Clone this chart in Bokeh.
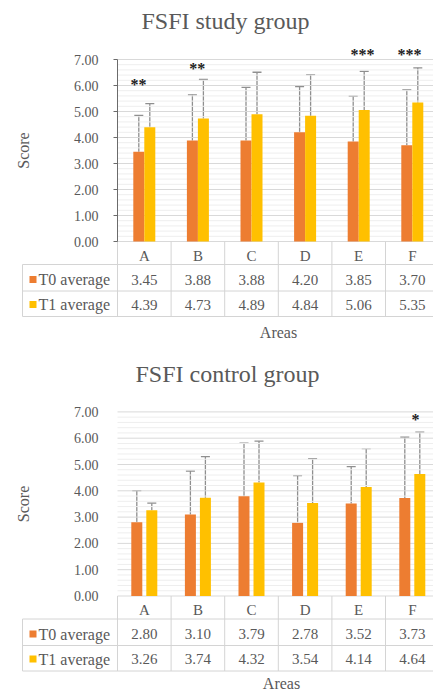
import math
from bokeh.plotting import figure
from bokeh.models import (ColumnDataSource, Range1d, SingleIntervalTicker, NumeralTickFormatter,
                          Whisker, TeeHead)
from bokeh.layouts import column
from bokeh.embed import file_html
from bokeh.resources import INLINE
from bokeh.core.properties import value

# ---------------- data ----------------
areas = ["A", "B", "C", "D", "E", "F"]
series_names = ["T0 average", "T1 average"]
y_ticks = [0, 1, 2, 3, 4, 5, 6, 7]

study_t0 = [3.45, 3.88, 3.88, 4.20, 3.85, 3.70]
study_t1 = [4.39, 4.73, 4.89, 4.84, 5.06, 5.35]
study_t0_sd = [1.40, 1.76, 2.05, 1.76, 1.74, 2.13]
study_t1_sd = [0.91, 1.50, 1.62, 1.58, 1.48, 1.33]
study_sig = ["**", "**", "", "", "***", "***"]
study_sig_y = [6.19, 6.81, 0, 0, 7.35, 7.35]
study_sig_x = [0.39, 1.49, 0, 0, 4.57, 5.45]

control_t0 = [2.80, 3.10, 3.79, 2.78, 3.52, 3.73]
control_t1 = [3.26, 3.74, 4.32, 3.54, 4.14, 4.64]
control_t0_sd = [1.21, 1.65, 2.02, 1.80, 1.40, 2.31]
control_t1_sd = [0.27, 1.56, 1.57, 1.68, 1.46, 1.59]
control_sig = ["", "", "", "", "", "*"]
control_sig_y = [0, 0, 0, 0, 0, 6.85]
control_sig_x = [0, 0, 0, 0, 0, 5.56]

C0 = "#ED7D31"
C1 = "#FFC000"
TXT = "#595959"
SERIF = "Liberation Serif"
GRID = "#d9d9d9"
MINOR = "#eeeeee"
TABLE = "#d4d4d4"
COL_W = 53.6      # px per category column
FRAME_LEFT = 117  # px where the category area starts


def make_chart(title, t0, t1, sd0, sd1, sig, sig_y, sig_x, H, zero_px, ppu,
               dodge_px, title_y_px, title_x, areas_x, areas_y_px, axis_line):
    x_start = -FRAME_LEFT / COL_W
    x_end = (433 - FRAME_LEFT) / COL_W
    y_end = zero_px / ppu
    y_start = -(H - zero_px) / ppu
    p = figure(width=433, height=H, x_range=Range1d(x_start, x_end),
               y_range=Range1d(y_start, y_end),
               output_backend="svg", toolbar_location=None, x_axis_location=None,
               min_border_left=0, min_border_right=0, min_border_top=0, min_border_bottom=0)
    p.outline_line_color = None
    p.background_fill_color = "white"
    p.border_fill_color = "white"
    for g in p.grid:
        g.visible = False

    ticker = SingleIntervalTicker(interval=1, num_minor_ticks=5)
    ax = p.yaxis[0]
    ax.fixed_location = 0
    ax.ticker = ticker
    ax.bounds = (y_ticks[0], y_ticks[-1])
    ax.formatter = NumeralTickFormatter(format="0.00")
    ax.major_label_text_font = SERIF
    ax.major_label_text_font_size = "14px"
    ax.major_label_text_color = TXT
    ax.major_label_standoff = 15
    ax.axis_line_color = "#6b6b6b" if axis_line else None
    ax.major_tick_line_color = "#6b6b6b" if axis_line else None
    ax.major_tick_out = 4
    ax.major_tick_in = 0
    ax.minor_tick_line_color = None

    n = len(areas)
    centers = [i + 0.5 for i in range(n)]

    # grid lines (only across the category area)
    minor = [t + k * 0.2 for t in y_ticks[:-1] for k in range(1, 5)]
    p.segment(x0=[0] * len(minor), x1=[n] * len(minor), y0=minor, y1=minor,
              line_color=MINOR, line_width=1)
    p.segment(x0=[0] * len(y_ticks), x1=[n] * len(y_ticks), y0=y_ticks, y1=y_ticks,
              line_color=GRID, line_width=1)

    dodge = dodge_px / COL_W
    bw = 11 / COL_W
    x0 = [c - dodge for c in centers]
    x1 = [c + dodge for c in centers]

    p.vbar(x=x0, top=t0, bottom=0, width=bw, color=C0, line_color=None)
    p.vbar(x=x1, top=t1, bottom=0, width=bw, color=C1, line_color=None)

    for xs, m, sd in ((x0, t0, sd0), (x1, t1, sd1)):
        src = ColumnDataSource(dict(x=xs, lo=m, hi=[a + b for a, b in zip(m, sd)]))
        w = Whisker(base="x", lower="lo", upper="hi", dimension="height", source=src,
                    line_color="#8f8f8f", line_width=1.3,
                    upper_head=TeeHead(size=9, line_color="#8f8f8f", line_width=1.3),
                    lower_head=None)
        p.add_layout(w)

    # significance marks
    sx = [x for x, s in zip(sig_x, sig) if s]
    sy = [y for y, s in zip(sig_y, sig) if s]
    st = [s for s in sig if s]
    p.text(x=sx, y=sy, text=st, text_font=value(SERIF), text_font_style="bold",
           text_font_size="16px", text_color="#222222", text_align="center",
           text_baseline="middle", y_offset=4)

    # data table under the plot
    hdr_b, r0_b, r1_b = 23 / ppu, 49.5 / ppu, 75 / ppu
    left = (22 - FRAME_LEFT) / COL_W
    lx0, ly0, lx1, ly1 = [], [], [], []

    def seg(a, b, c, d):
        lx0.append(a); ly0.append(b); lx1.append(c); ly1.append(d)

    for yb in (hdr_b, r0_b, r1_b):
        seg(left, -yb, n + 0.2, -yb)
    seg(left, -hdr_b, left, -r1_b)
    for i in range(n + 1):
        seg(i, 0, i, -r1_b)
    p.segment(x0=lx0, y0=ly0, x1=lx1, y1=ly1, line_color=TABLE, line_width=1)

    tstyle = dict(text_font=value(SERIF), text_font_size="15px", text_color=TXT,
                  text_align="center", text_baseline="middle")
    p.text(x=centers, y=[-14 / ppu] * n, text=areas, **tstyle)
    p.text(x=centers, y=[-38 / ppu] * n, text=[f"{v:.2f}" for v in t0], **tstyle)
    p.text(x=centers, y=[-63 / ppu] * n, text=[f"{v:.2f}" for v in t1], **tstyle)

    row_y = [-38 / ppu, -63 / ppu]
    p.text(x=[(38 - FRAME_LEFT) / COL_W] * 2, y=row_y, text=series_names,
           text_font=value(SERIF), text_font_size="16px", text_color=TXT,
           text_align="left", text_baseline="middle")
    p.scatter(x=[(32.5 - FRAME_LEFT) / COL_W] * 2, y=row_y, marker="square", size=7,
              fill_color=[C0, C1], line_color=None)

    p.text(x=[areas_x], y=[-areas_y_px / ppu], text=["Areas"], text_font=value(SERIF),
           text_font_size="16px", text_color=TXT, text_align="center", text_baseline="middle")
    p.text(x=[(23 - FRAME_LEFT) / COL_W], y=[(y_ticks[0] + y_ticks[-1]) / 2], text=["Score"],
           angle=math.pi / 2, text_font=value(SERIF), text_font_size="16px", text_color=TXT,
           text_align="center", text_baseline="middle")
    p.text(x=[title_x], y=[(zero_px - title_y_px) / ppu], text=[title], text_font=value(SERIF),
           text_font_size="24px", text_color=TXT, text_align="center", text_baseline="middle")
    return p


p1 = make_chart("FSFI study group", study_t0, study_t1, study_t0_sd, study_t1_sd,
                study_sig, study_sig_y, study_sig_x, H=346, zero_px=241, ppu=26.0,
                dodge_px=5.5, title_y_px=20, title_x=(225 - FRAME_LEFT) / COL_W,
                areas_x=(278 - FRAME_LEFT) / COL_W, areas_y_px=91, axis_line=True)
p2 = make_chart("FSFI control group", control_t0, control_t1, control_t0_sd, control_t1_sd,
                control_sig, control_sig_y, control_sig_x, H=347, zero_px=249.5, ppu=26.3,
                dodge_px=7.5, title_y_px=27, title_x=(227 - FRAME_LEFT) / COL_W,
                areas_x=(281 - FRAME_LEFT) / COL_W, areas_y_px=87, axis_line=False)

layout = column(p1, p2, spacing=0)
open("out.html", "w").write(file_html(layout, INLINE))
